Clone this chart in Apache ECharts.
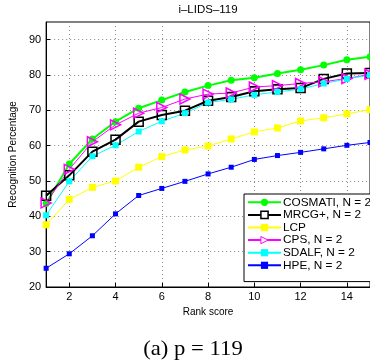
<!DOCTYPE html>
<html>
<head>
<meta charset="utf-8">
<script src="https://cdn.jsdelivr.net/npm/echarts@6/dist/echarts.min.js"></script>
<style>
  html, body { margin: 0; padding: 0; background: #fff; }
  #chart { width: 370px; height: 362px; }
</style>
</head>
<body>
<div id="chart"></div>
<script>
// rank 1..15
var ranks = ['1','2','3','4','5','6','7','8','9','10','11','12','13','14','15'];
var cosmati = [43.6, 54.8, 61.9, 66.8, 70.6, 72.9, 75.2, 77.0, 78.5, 79.2, 80.4, 81.5, 82.8, 84.3, 85.2];
var mrcg    = [45.8, 51.6, 58.3, 61.7, 66.8, 68.7, 69.9, 72.7, 73.8, 75.4, 76.0, 76.3, 78.9, 80.4, 80.6];
var lcp     = [37.6, 44.8, 48.2, 50.0, 53.9, 56.9, 58.8, 59.9, 61.9, 63.9, 65.0, 67.0, 67.9, 69.0, 70.2];
var cps     = [43.8, 53.3, 61.1, 65.9, 69.2, 70.8, 73.2, 74.6, 74.9, 76.6, 77.0, 77.6, 78.1, 79.0, 80.2];
var sdalf   = [40.3, 49.9, 57.0, 60.1, 64.0, 66.9, 69.2, 72.2, 73.1, 74.4, 75.2, 76.0, 77.6, 78.9, 80.0];
var hpe     = [25.3, 29.4, 34.5, 40.7, 45.9, 47.9, 49.9, 52.0, 53.9, 56.1, 57.2, 58.1, 59.1, 60.1, 60.9];

var font = 'Liberation Sans, Arial, sans-serif';
var triRight = 'path://M0,0 L10,5 L0,10 Z';

function evenTick(idx, val) {
  return Number(val) % 2 === 0;
}

function mk(name, data, color, symbol, size, width, hollow) {
  return {
    name: name,
    type: 'line',
    data: data,
    symbol: symbol,
    symbolSize: size,
    showAllSymbol: true,
    animation: false,
    lineStyle: { color: color, width: width },
    itemStyle: hollow
      ? { color: 'rgba(0,0,0,0)', borderColor: color, borderWidth: 1.5 }
      : { color: color, borderWidth: 0 },
    emphasis: { disabled: true }
  };
}

var chart = echarts.init(document.getElementById('chart'));
chart.setOption({
  backgroundColor: '#fff',
  animation: false,
  textStyle: { fontFamily: font },
  grid: {
    left: 40, top: 22, right: -6, bottom: 75,
    show: true, borderColor: '#000', borderWidth: 1, backgroundColor: '#fff'
  },
  graphic: [
    { type: 'text', x: 208, y: 10, style: { text: 'i–LIDS–119', font: '11.5px ' + font, fill: '#000', align: 'center', verticalAlign: 'middle' } },
    { type: 'text', x: 193, y: 349, scaleX: 1.08, style: { text: '(a) p = 119', font: '21px "Liberation Serif", "Times New Roman", serif', fill: '#000', align: 'center', verticalAlign: 'middle' } }
  ],
  legend: {
    orient: 'vertical',
    left: 244, top: 194,
    backgroundColor: '#fff',
    borderColor: '#000', borderWidth: 1, borderRadius: 0,
    padding: [2, 30, 10, 3],
    itemWidth: 33, itemHeight: 9, itemGap: 0,
    textStyle: { fontSize: 11.8, lineHeight: 12.6, color: '#000', fontFamily: font, padding: [0, 0, 0, -3] },
    data: [
      'COSMATI, N = 2',
      { name: 'MRCG+, N = 2', itemStyle: { color: '#fff', borderColor: '#000', borderWidth: 1.5 } },
      'LCP',
      { name: 'CPS, N = 2', itemStyle: { color: '#fff', borderColor: '#ff00ff', borderWidth: 1 } },
      'SDALF, N = 2',
      'HPE, N = 2'
    ]
  },
  xAxis: {
    type: 'category',
    data: ranks,
    boundaryGap: false,
    name: 'Rank score',
    nameLocation: 'middle',
    nameGap: 16,
    nameTextStyle: { fontSize: 10, color: '#000', fontFamily: font },
    axisLine: { lineStyle: { color: '#000', width: 1 } },
    axisTick: { inside: true, length: 4, interval: evenTick, lineStyle: { color: '#000' } },
    axisLabel: { interval: evenTick, fontSize: 11, color: '#000', margin: 4, fontFamily: font },
    splitLine: { show: true, interval: evenTick, lineStyle: { type: [1, 3], color: '#888', width: 1 } }
  },
  yAxis: {
    type: 'value',
    min: 20, max: 95, interval: 10,
    name: 'Recognition Percentage',
    nameLocation: 'middle',
    nameGap: 20,
    nameTextStyle: { fontSize: 10, color: '#000', fontFamily: font },
    axisLine: { show: true, lineStyle: { color: '#000', width: 1 } },
    axisTick: { show: true, inside: true, length: 4, lineStyle: { color: '#000' } },
    axisLabel: { fontSize: 11, color: '#000', margin: 5, showMaxLabel: false, fontFamily: font },
    splitLine: { show: true, lineStyle: { type: [1, 3], color: '#888', width: 1 } }
  },
  series: [
    mk('COSMATI, N = 2', cosmati, '#00ff00', 'circle', 7, 2, false),
    mk('MRCG+, N = 2', mrcg, '#000000', 'rect', 9, 2, true),
    mk('LCP', lcp, '#ffff00', 'rect', 7, 1, false),
    mk('CPS, N = 2', cps, '#ff00ff', triRight, 10, 1, true),
    mk('SDALF, N = 2', sdalf, '#00ffff', 'rect', 6, 1, false),
    mk('HPE, N = 2', hpe, '#0000ff', 'rect', 5, 1, false)
  ]
});
</script>
</body>
</html>
